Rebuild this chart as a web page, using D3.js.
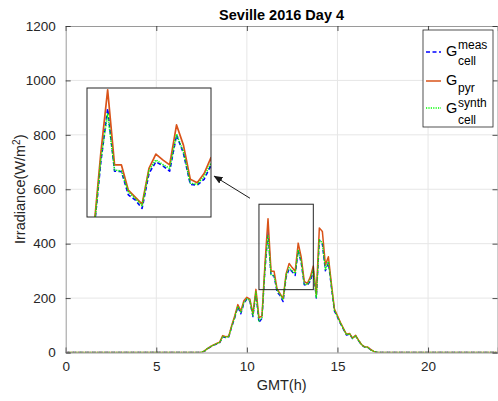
<!DOCTYPE html>
<html>
<head>
<meta charset="utf-8">
<script src="https://cdn.jsdelivr.net/npm/d3@7"></script>
<style>
  html, body { margin: 0; padding: 0; background: #fff; }
  svg { display: block; font-family: "Liberation Sans", Arial, Helvetica, sans-serif; }
</style>
</head>
<body>
<svg id="chart" width="498" height="401"></svg>
<script>
// 10-minute samples over one day (hours GMT)
const stepHours = 1 / 6;

// Measured cell irradiance, W/m^2 (00:00 .. 23:50)
const gCellMeas = [
  0,0,0,0,0,0,0,0,0,0,0,0,0,0,0,0,0,0,0,0,0,0,0,0,
  0,0,0,0,0,0,0,0,0,0,0,0,0,0,0,0,0,0,0,0,0,
  1,5,14,21,27,31,36,58,55,57,95,128,168,142,180,196,188,132,220,110,125,305,
  444,283,282,222,209,187,277,307,297,283,376,329,249,247,262,299,200,413,398,300,
  330,240,152,130,106,85,64,68,51,61,43,28,20,19,10,4,1,0,
  0,0,0,0,0,0,0,0,0,0,0,0,0,0,0,0,0,0,0,0,0,0,0,0,
  0,0,0,0,0,0,0,0,0,0,0,0,0,0,0
];

// Pyranometer irradiance, W/m^2
const gPyr = [
  0,0,0,0,0,0,0,0,0,0,0,0,0,0,0,0,0,0,0,0,0,0,0,0,
  0,0,0,0,0,0,0,0,0,0,0,0,0,0,0,0,0,0,0,0,0,
  1,6,15,22,28,33,38,62,58,60,100,135,176,152,190,203,196,142,232,128,134,328,
  492,299,299,234,216,198,290,327,312,299,402,350,262,253,277,318,212,458,445,322,
  352,252,160,135,110,88,67,70,53,63,45,29,21,20,11,4,1,0,
  0,0,0,0,0,0,0,0,0,0,0,0,0,0,0,0,0,0,0,0,0,0,0,0,
  0,0,0,0,0,0,0,0,0,0,0,0,0,0,0
];

// Synthetic cell irradiance, W/m^2
const gCellSynth = [
  0,0,0,0,0,0,0,0,0,0,0,0,0,0,0,0,0,0,0,0,0,0,0,0,
  0,0,0,0,0,0,0,0,0,0,0,0,0,0,0,0,0,0,0,0,0,
  1,6,15,22,27,32,37,59,56,58,97,130,170,146,183,198,191,136,223,116,128,312,
  432,286,283,230,213,194,285,312,300,290,378,333,252,249,269,304,203,415,402,305,
  335,243,155,132,108,86,65,69,52,62,44,28,20,19,10,4,1,0,
  0,0,0,0,0,0,0,0,0,0,0,0,0,0,0,0,0,0,0,0,0,0,0,0,
  0,0,0,0,0,0,0,0,0,0,0,0,0,0,0
];

const xTicks = [0, 5, 10, 15, 20];
const yTicks = [0, 200, 400, 600, 800, 1000, 1200];
const zoomHours = [10.667, 13.667];
const zoomIrr = [231, 545];
const insetIrr = [165, 497];

const series = [
  { name: "meas", values: gCellMeas, color: "#0000ff", dash: "4,2.5", width: 1.4 },
  { name: "pyr", values: gPyr, color: "#d95319", dash: null, width: 1.5 },
  { name: "synth", values: gCellSynth, color: "#00ff00", dash: "1.2,1.2", width: 1.4 }
];

const svg = d3.select("#chart");
const textColor = "#262626";
const boxColor = "#9a9a9a";
const gridColor = "#e6e6e6";

const x = d3.scaleLinear().domain([0, (gPyr.length - 1) * stepHours]).range([65.7, 497.5]);
const y = d3.scaleLinear().domain([0, 1200]).range([352.5, 26]);

const plotL = x.range()[0], plotR = x.range()[1];
const plotT = y.range()[1], plotB = y.range()[0];

svg.append("defs").append("clipPath").attr("id", "plotClip")
  .append("rect").attr("x", plotL).attr("y", plotT)
  .attr("width", plotR - plotL).attr("height", plotB - plotT);

// grid
const grid = svg.append("g");
xTicks.filter(d => d > 0).forEach(d => {
  grid.append("line").attr("x1", x(d)).attr("x2", x(d)).attr("y1", plotT).attr("y2", plotB)
    .attr("stroke", gridColor).attr("stroke-width", 1);
});
yTicks.filter(d => d > 0 && d < 1200).forEach(d => {
  grid.append("line").attr("x1", plotL).attr("x2", plotR).attr("y1", y(d)).attr("y2", y(d))
    .attr("stroke", gridColor).attr("stroke-width", 1);
});

// axes (ticks pointing inward, box on)
const tickLen = 5;
const xAxisB = d3.axisBottom(x).tickValues(xTicks).tickSize(-tickLen).tickPadding(9).tickFormat(d3.format("d"));
const xAxisT = d3.axisTop(x).tickValues(xTicks).tickSize(-tickLen).tickFormat("");
const yAxisL = d3.axisLeft(y).tickValues(yTicks).tickSize(-tickLen).tickPadding(10).tickFormat(d3.format("d"));
const yAxisR = d3.axisRight(y).tickValues(yTicks).tickSize(-tickLen).tickFormat("");

function styleAxis(g) {
  g.select(".domain").attr("stroke", boxColor).attr("stroke-width", 1);
  g.selectAll(".tick line").attr("stroke", textColor).attr("stroke-width", 0.8);
  g.selectAll(".tick text").attr("fill", textColor).style("font-size", "13.5px")
    .style("font-family", '"Liberation Sans", Arial, sans-serif');
}

// data lines
const line = d3.line().x((d, i) => x(i * stepHours)).y(d => y(d));
const dataG = svg.append("g").attr("clip-path", "url(#plotClip)");
series.forEach(s => {
  dataG.append("path").attr("d", line(s.values)).attr("fill", "none")
    .attr("stroke", s.color).attr("stroke-width", s.width)
    .attr("stroke-dasharray", s.dash).attr("stroke-linejoin", "round");
});

svg.append("g").attr("transform", `translate(0,${plotB})`).call(xAxisB).call(styleAxis);
svg.append("g").attr("transform", `translate(0,${plotT})`).call(xAxisT).call(styleAxis);
svg.append("g").attr("transform", `translate(${plotL},0)`).call(yAxisL).call(styleAxis);
svg.append("g").attr("transform", `translate(${plotR},0)`).call(yAxisR).call(styleAxis);

// zoom region marker
svg.append("rect")
  .attr("x", x(zoomHours[0])).attr("y", y(zoomIrr[1]))
  .attr("width", x(zoomHours[1]) - x(zoomHours[0])).attr("height", y(zoomIrr[0]) - y(zoomIrr[1]))
  .attr("fill", "none").attr("stroke", "#262626").attr("stroke-width", 1);

// arrow to inset
const arrowFrom = [10.17, 567], arrowTo = [8.2, 648];
svg.select("defs").append("marker").attr("id", "arrowHead")
  .attr("viewBox", "0 0 10 10").attr("refX", 9).attr("refY", 5)
  .attr("markerWidth", 9).attr("markerHeight", 9).attr("orient", "auto")
  .attr("markerUnits", "userSpaceOnUse")
  .append("path").attr("d", "M0,1 L10,5 L0,9 Z").attr("fill", "#1a1a1a");
svg.append("line")
  .attr("x1", x(arrowFrom[0])).attr("y1", y(arrowFrom[1]))
  .attr("x2", x(arrowTo[0])).attr("y2", y(arrowTo[1]))
  .attr("stroke", "#1a1a1a").attr("stroke-width", 1)
  .attr("marker-end", "url(#arrowHead)");

// inset axes
const ix = d3.scaleLinear().domain(zoomHours).range([87, 211]);
const iy = d3.scaleLinear().domain(insetIrr).range([217, 88]);
svg.select("defs").append("clipPath").attr("id", "insetClip")
  .append("rect").attr("x", 87).attr("y", 88).attr("width", 124).attr("height", 129);
svg.append("rect").attr("x", 87).attr("y", 88).attr("width", 124).attr("height", 129)
  .attr("fill", "#fff");
const iline = d3.line().x((d, i) => ix(i * stepHours)).y(d => iy(d));
const insetG = svg.append("g").attr("clip-path", "url(#insetClip)");
series.forEach(s => {
  insetG.append("path").attr("d", iline(s.values)).attr("fill", "none")
    .attr("stroke", s.color).attr("stroke-width", s.width + 0.2)
    .attr("stroke-dasharray", s.dash).attr("stroke-linejoin", "round");
});
svg.append("rect").attr("x", 87).attr("y", 88).attr("width", 124).attr("height", 129)
  .attr("fill", "none").attr("stroke", "#262626").attr("stroke-width", 1);

// title and labels
svg.append("text").attr("x", (plotL + plotR) / 2).attr("y", 19.5).attr("text-anchor", "middle")
  .attr("fill", "#000").style("font-size", "14.5px").style("font-weight", "bold")
  .text("Seville 2016 Day 4");
svg.append("text").attr("x", (plotL + plotR) / 2).attr("y", 390).attr("text-anchor", "middle")
  .attr("fill", textColor).style("font-size", "14.5px").text("GMT(h)");
const yl = svg.append("text").attr("transform", `translate(25,${(plotT + plotB) / 2}) rotate(-90)`)
  .attr("text-anchor", "middle").attr("fill", textColor).style("font-size", "14.5px");
yl.append("tspan").text("Irradiance(W/m");
yl.append("tspan").attr("dy", -5).style("font-size", "10px").text("2");
yl.append("tspan").attr("dy", 5).text(")");

// legend
const lg = svg.append("g");
lg.append("rect").attr("x", 423).attr("y", 30).attr("width", 70).attr("height", 97)
  .attr("fill", "#fff").attr("stroke", textColor).attr("stroke-width", 0.8);
const legendRows = [
  { s: series[0], lineY: 52, gBase: 56, sup: "meas", sub: "cell", supBase: 49, subBase: 65 },
  { s: series[1], lineY: 81, gBase: 85, sup: null, sub: "pyr", supBase: 0, subBase: 92 },
  { s: series[2], lineY: 108, gBase: 113, sup: "synth", sub: "cell", supBase: 107, subBase: 124 }
];
legendRows.forEach(r => {
  lg.append("line").attr("x1", 426).attr("x2", 441).attr("y1", r.lineY).attr("y2", r.lineY)
    .attr("stroke", r.s.color).attr("stroke-width", r.s.width).attr("stroke-dasharray", r.s.dash);
  lg.append("text").attr("x", 446).attr("y", r.gBase).attr("fill", "#000")
    .style("font-size", "14.5px").text("G");
  if (r.sup) lg.append("text").attr("x", 458).attr("y", r.supBase).attr("fill", "#000")
    .style("font-size", "12px").text(r.sup);
  if (r.sub) lg.append("text").attr("x", 458).attr("y", r.subBase).attr("fill", "#000")
    .style("font-size", "12px").text(r.sub);
});
</script>
</body>
</html>
